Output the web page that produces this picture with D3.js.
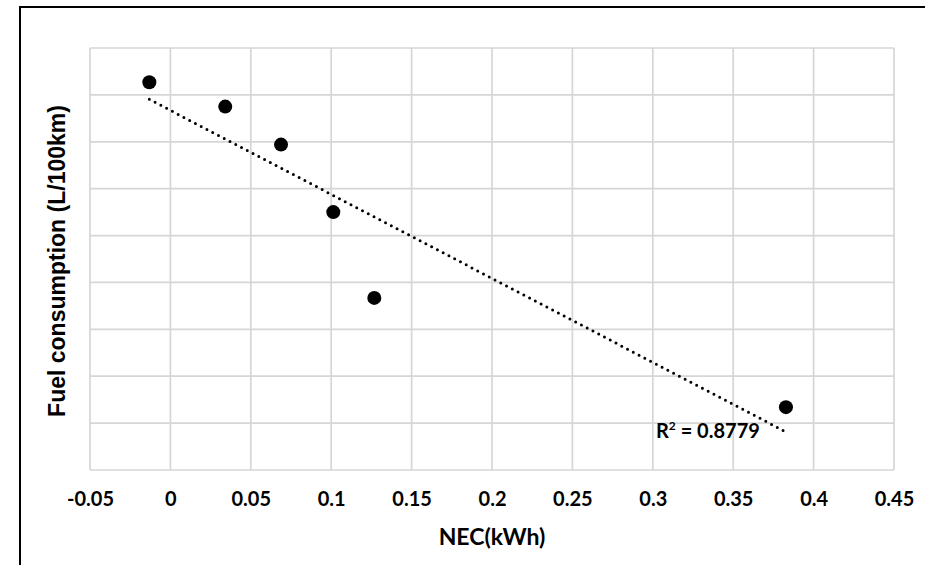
<!DOCTYPE html>
<html>
<head>
<meta charset="utf-8">
<script src="https://cdn.jsdelivr.net/npm/d3@7"></script>
<style>
  body { margin: 0; background: #fff; }
  svg { display: block; }
</style>
</head>
<body>
<div id="chart"></div>
<script>
// Data (y has no labels, so it is in grid units)
const necValues = [-0.0131, 0.0341, 0.0688, 0.1013, 0.1268, 0.3828];
const fuelValues = [8.27, 7.75, 6.94, 5.50, 3.67, 1.34];
const xTicks = [-0.05, 0, 0.05, 0.1, 0.15, 0.2, 0.25, 0.3, 0.35, 0.4, 0.45];
const yTicks = [0, 1, 2, 3, 4, 5, 6, 7, 8, 9];
const r2Label = "0.8779";

const W = 925, H = 565;
const margin = {top: 48, right: 31, bottom: 95, left: 90},
    width = W - margin.left - margin.right,
    height = H - margin.top - margin.bottom;

const svg = d3.select("#chart")
    .append("svg")
    .attr("width", W)
    .attr("height", H);

// outer frame (only left and top visible in the picture)
svg.append("rect")
    .attr("x", 20)
    .attr("y", 7)
    .attr("width", W + 20)
    .attr("height", H + 20)
    .attr("fill", "none")
    .attr("stroke", "#000")
    .attr("stroke-width", 2);

const g = svg.append("g")
    .attr("transform", `translate(${margin.left},${margin.top})`);

const x = d3.scaleLinear().domain([-0.05, 0.45]).range([0, width]);
const y = d3.scaleLinear().domain([0, 9]).range([height, 0]);

// gridlines
g.append("g")
    .selectAll("line")
    .data(xTicks)
    .enter()
    .append("line")
    .attr("x1", d => x(d))
    .attr("x2", d => x(d))
    .attr("y1", 0)
    .attr("y2", height)
    .attr("stroke", "#d6d6d6")
    .attr("stroke-width", 1.7);

g.append("g")
    .selectAll("line")
    .data(yTicks)
    .enter()
    .append("line")
    .attr("x1", 0)
    .attr("x2", width)
    .attr("y1", d => y(d))
    .attr("y2", d => y(d))
    .attr("stroke", "#d6d6d6")
    .attr("stroke-width", 1.7);

// x axis labels (plain hyphen for the minus, as in the picture)
const xAxis = g.append("g")
    .attr("transform", `translate(0,${height})`)
    .call(d3.axisBottom(x).tickValues(xTicks).tickSize(0).tickPadding(22)
        .tickFormat(d => String(+d.toFixed(2))));
xAxis.select(".domain").remove();
xAxis.selectAll("text")
    .attr("fill", "#000")
    .style("font-family", "Lato, sans-serif")
    .style("font-weight", "bold")
    .style("font-size", "20px");

// linear trendline (least squares)
const mx = d3.mean(necValues), my = d3.mean(fuelValues);
const sxy = d3.sum(necValues, (v, i) => (v - mx) * (fuelValues[i] - my));
const sxx = d3.sum(necValues, v => (v - mx) * (v - mx));
const slope = sxy / sxx, intercept = my - slope * mx;
const trendX = d3.extent(necValues);

g.append("path")
    .datum(trendX)
    .attr("d", d3.line().x(d => x(d)).y(d => y(slope * d + intercept)))
    .attr("fill", "none")
    .attr("stroke", "#000")
    .attr("stroke-width", 3)
    .attr("stroke-linecap", "round")
    .attr("stroke-dasharray", "0 6.5");

// points
g.selectAll("circle")
    .data(necValues)
    .enter()
    .append("circle")
    .attr("cx", d => x(d))
    .attr("cy", (d, i) => y(fuelValues[i]))
    .attr("r", 7)
    .attr("fill", "#000");

// R squared label
const r2 = g.append("text")
    .attr("x", x(trendX[1]) - 130)
    .attr("y", y(slope * trendX[1] + intercept) + 6)
    .style("font-family", "Lato, sans-serif")
    .style("font-weight", "bold")
    .style("font-size", "20px")
    .attr("fill", "#000");
r2.append("tspan").text("R");
r2.append("tspan").text("2").attr("dy", -8).style("font-size", "12px");
r2.append("tspan").text(" = " + r2Label).attr("dy", 8);

// x axis title
g.append("text")
    .attr("text-anchor", "middle")
    .attr("x", width / 2)
    .attr("y", height + 75)
    .style("font-family", "Lato, sans-serif")
    .style("font-weight", "bold")
    .style("font-size", "23px")
    .text("NEC(kWh)");

// y axis title
g.append("text")
    .attr("text-anchor", "middle")
    .attr("transform", "rotate(-90)")
    .attr("x", -(422 + 100) / 2 + margin.top)
    .attr("y", 65 - margin.left)
    .style("font-family", "'Liberation Sans', Arial, sans-serif")
    .style("font-weight", "bold")
    .style("font-size", "23px")
    .text("Fuel consumption (L/100km)");
</script>
</body>
</html>
